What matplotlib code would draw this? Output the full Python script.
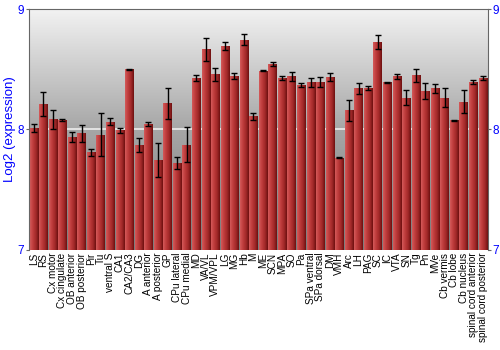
import numpy as np
import matplotlib.pyplot as plt
from matplotlib.colors import LinearSegmentedColormap

plt.rcParams['font.family'] = ['Liberation Sans', 'DejaVu Sans']

regions = ['LS', 'RS', 'Cx motor', 'Cx cingulate', 'OB anterior', 'OB posterior',
           'Pir', 'Tu', 'ventral S', 'CA1', 'CA2/CA3', 'DG', 'A anterior',
           'A posterior', 'GP', 'CPu lateral', 'CPu medial', 'MD', 'VA/VL',
           'VPM/VPL', 'LG', 'MG', 'Hb', 'M', 'ME', 'SCN', 'MPA', 'SO', 'Pa',
           'SPa ventral', 'SPa dorsal', 'DM', 'VMH', 'Arc', 'LH', 'PAG', 'SC',
           'IC', 'VTA', 'SN', 'Tg', 'Pn', 'MVe', 'Cb vermis', 'Cb lobe',
           'Cb nucleus', 'spinal cord anterior', 'spinal cord posterior']

expr = [8.015, 8.213, 8.086, 8.078, 7.936, 7.970, 7.812, 7.958, 8.064, 7.994,
        8.501, 7.870, 8.047, 7.745, 8.216, 7.723, 7.873, 8.427, 8.665, 8.460,
        8.693, 8.443, 8.745, 8.111, 8.488, 8.546, 8.429, 8.443, 8.366, 8.393,
        8.393, 8.435, 7.767, 8.158, 8.341, 8.343, 8.726, 8.391, 8.443, 8.263,
        8.449, 8.319, 8.343, 8.263, 8.075, 8.230, 8.396, 8.427]

err = [0.033, 0.097, 0.078, 0.010, 0.040, 0.070, 0.030, 0.175, 0.030, 0.020,
       0.005, 0.058, 0.015, 0.143, 0.130, 0.047, 0.145, 0.026, 0.097, 0.054,
       0.036, 0.024, 0.047, 0.030, 0.005, 0.015, 0.015, 0.037, 0.017, 0.037,
       0.039, 0.035, 0.005, 0.087, 0.042, 0.018, 0.057, 0.005, 0.020, 0.062,
       0.057, 0.066, 0.037, 0.078, 0.005, 0.094, 0.017, 0.015]

fig = plt.figure(figsize=(5, 3.5), dpi=100)
ax = fig.add_axes([0.058, 0.286, 0.917, 0.688])

x = np.arange(len(regions))
n = len(regions)

# gray gradient background, light at top
bg = LinearSegmentedColormap.from_list('bg', ['#f2f2f2', '#a6a6a6', '#7c7c7c'])
ax.imshow(np.linspace(0, 1, 256).reshape(-1, 1), cmap=bg, aspect='auto',
          extent=(-0.5, n - 0.5, 7, 9), origin='upper', zorder=0)

ax.axhline(8, color='#eeeeee', lw=1.2, zorder=1)

# bars with horizontal red shading
red = LinearSegmentedColormap.from_list('red', ['#d45a5a', '#bf3c3c', '#a32a2a', '#6e1010'])
bars = ax.bar(x, np.array(expr) - 7, bottom=7, width=0.88, color='none', zorder=2)
grad = np.linspace(0, 1, 64).reshape(1, -1)
for b in bars:
    x0, w = b.get_x(), b.get_width()
    im = ax.imshow(grad, cmap=red, aspect='auto',
                   extent=(x0, x0 + w, 7, b.get_y() + b.get_height()), zorder=2)
    im.set_clip_path(b)
ax.set_xlim(-0.5, n - 0.5)
ax.set_ylim(7, 9)

ax.errorbar(x, expr, yerr=err, fmt='none', ecolor='black', elinewidth=1,
            capsize=2.2, capthick=1, zorder=3)

for s in ['left', 'top', 'right']:
    ax.spines[s].set_color('#666666')
ax.spines['bottom'].set_visible(False)

ax.set_xticks(x)
ax.set_xticklabels(regions, rotation=90, fontsize=7.2)
ax.tick_params(axis='x', length=0, pad=2)
ax.set_yticks([7, 8, 9])
ax.tick_params(axis='y', colors='#666666', labelcolor='blue', labelsize=8.5,
               length=2.5, right=True, labelright=True, pad=1)
ax.set_ylabel('Log2 (expression)', color='blue', fontsize=9.5, labelpad=1)

plt.savefig('out.png', dpi=100)
